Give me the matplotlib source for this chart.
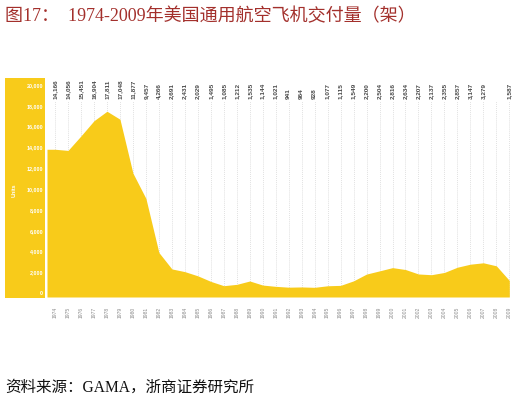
import matplotlib
matplotlib.use("Agg")
import matplotlib.pyplot as plt
import matplotlib.transforms as mtransforms

years = list(range(1974, 2010))
deliveries = [14166, 14056, 15451, 16904, 17811, 17048, 11877, 9457, 4266, 2691,
              2431, 2029, 1495, 1085, 1212, 1535, 1144, 1021, 941, 964,
              928, 1077, 1115, 1549, 2200, 2504, 2816, 2634, 2207, 2137,
              2355, 2857, 3147, 3279, 2990, 1587]
unlabelled_years = [2008]
y_ticks = [0, 2000, 4000, 6000, 8000, 10000, 12000, 14000, 16000, 18000, 20000]

title_text = "图17：  1974-2009年美国通用航空飞机交付量（架）"
source_text = "资料来源：GAMA，浙商证券研究所"
unit_text = "Units"

YELLOW = "#F8CB1A"
W, H = 520, 403
fig = plt.figure(figsize=(W / 100, H / 100), dpi=100)

def fx(px):
    return px / W

def fy(py):
    return 1 - py / H

NARROW = ["Liberation Sans Narrow", "Liberation Sans"]

# main axes
ax = fig.add_axes([fx(47), fy(297), fx(511) - fx(47), fy(78) - fy(297)])
x0, x1 = years[0] - 0.62, years[-1] + 0.13
ax.set_xlim(x0, x1)
ax.set_ylim(0, 21000)
xs = [x0] + years
ys = [deliveries[0]] + deliveries
ax.fill_between(xs, ys, 0, color=YELLOW, linewidth=0, zorder=3)
for s in ax.spines.values():
    s.set_visible(False)
ax.set_yticks([])
ax.set_xticks(years)
ax.set_xticklabels([str(y) for y in years], rotation=90, fontsize=3.6,
                   color="#8a8a8a", family=NARROW)
ax.tick_params(axis="x", length=0, pad=7)

trans = mtransforms.blended_transform_factory(ax.transData, ax.transAxes)
ax.vlines(years, 0, 0.895, transform=trans, colors="#cfcfcf",
          linestyles=(0, (1.2, 1.6)), linewidth=0.5, zorder=1)
for yr, v in zip(years, deliveries):
    if yr in unlabelled_years:
        continue
    ax.text(yr, 0.905, f"{v:,}", transform=trans, rotation=90, ha="center",
            va="bottom", fontsize=4.6, color="#4a4a4a", family=NARROW,
            fontweight="bold")

# yellow strip with y labels
axs = fig.add_axes([fx(5), fy(298), fx(45) - fx(5), fy(78) - fy(298)])
axs.set_facecolor(YELLOW)
axs.set_xlim(0, 1)
axs.set_ylim(-400, 20700)
axs.set_xticks([])
axs.set_yticks([])
for s in axs.spines.values():
    s.set_visible(False)
for t in y_ticks:
    axs.text(0.95, t, f"{t:,}", ha="right", va="center", fontsize=3.9,
             color="white", family=NARROW, fontweight="bold")
axs.text(0.22, 0.49, unit_text, transform=axs.transAxes, rotation=90,
         ha="center", va="center", fontsize=3.9, color="white",
         family=NARROW, fontweight="bold")

# title and source
fig.text(fx(5), fy(16), title_text, ha="left", va="center", fontsize=13,
         color="#A3302C", family=["Liberation Serif", "Noto Sans CJK SC"])
fig.text(fx(5), fy(388), source_text, ha="left", va="center", fontsize=11.2,
         color="#111111", family=["Liberation Serif", "Noto Sans CJK SC"])

fig.savefig("out.png", dpi=100)
